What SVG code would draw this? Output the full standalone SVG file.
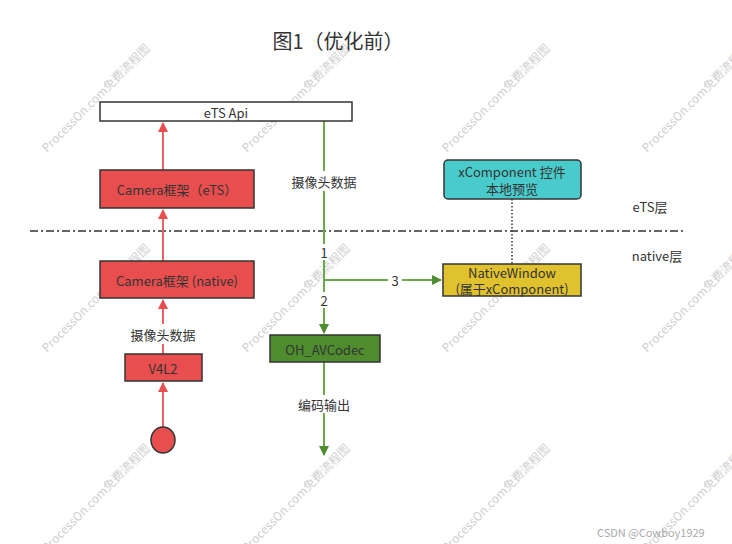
<svg xmlns="http://www.w3.org/2000/svg" width="732" height="544" viewBox="0 0 732 544">
<style>
text{font-family:"Microsoft YaHei","Noto Sans CJK SC","Liberation Sans",sans-serif;fill:#333;}
.t{font-size:13px;text-anchor:middle;dominant-baseline:central;}
.box{stroke:#333;stroke-width:1.5;}
.red{fill:#E84E4E;}
.rl{stroke:#E86464;stroke-width:2;fill:none;}
.gl{stroke:#6EA84C;stroke-width:2;fill:none;}
.wm{font-size:12px;fill:#d0d0d0;}
.lbl{font-size:13px;text-anchor:middle;dominant-baseline:central;}
</style>
<defs>
<marker id="ar" viewBox="0 0 10 10" refX="9" refY="5" markerWidth="5" markerHeight="5" orient="auto" markerUnits="strokeWidth"><path d="M0,0 L10,5 L0,10 z" fill="#E84E4E"/></marker>
<marker id="ag" viewBox="0 0 10 10" refX="9" refY="5" markerWidth="5" markerHeight="5" orient="auto" markerUnits="strokeWidth"><path d="M0,0 L10,5 L0,10 z" fill="#4E8C2E"/></marker>
</defs>
<rect width="732" height="544" fill="#fff"/>
<g id="watermarks">
<text class="wm" transform="translate(47,153) rotate(-45)">ProcessOn.com免费流程图</text>
<text class="wm" transform="translate(247,153) rotate(-45)">ProcessOn.com免费流程图</text>
<text class="wm" transform="translate(447,153) rotate(-45)">ProcessOn.com免费流程图</text>
<text class="wm" transform="translate(647,153) rotate(-45)">ProcessOn.com免费流程图</text>
<text class="wm" transform="translate(47,353) rotate(-45)">ProcessOn.com免费流程图</text>
<text class="wm" transform="translate(247,353) rotate(-45)">ProcessOn.com免费流程图</text>
<text class="wm" transform="translate(447,353) rotate(-45)">ProcessOn.com免费流程图</text>
<text class="wm" transform="translate(647,353) rotate(-45)">ProcessOn.com免费流程图</text>
<text class="wm" transform="translate(47,553) rotate(-45)">ProcessOn.com免费流程图</text>
<text class="wm" transform="translate(247,553) rotate(-45)">ProcessOn.com免费流程图</text>
<text class="wm" transform="translate(447,553) rotate(-45)">ProcessOn.com免费流程图</text>
<text class="wm" transform="translate(647,553) rotate(-45)">ProcessOn.com免费流程图</text>
</g>
<text x="338" y="40" style="font-size:20px;text-anchor:middle;dominant-baseline:central">图1（优化前）</text>
<line x1="30" y1="231" x2="686" y2="231" stroke="#333" stroke-width="1.5" stroke-dasharray="8,3,2,3"/>
<text x="650" y="206" class="t">eTS层</text>
<text x="657" y="255" class="t">native层</text>
<g id="connectors">
<line class="rl" x1="163" y1="427" x2="163" y2="383" marker-end="url(#ar)"/>
<line class="rl" x1="163" y1="354" x2="163" y2="344"/>
<line class="rl" x1="163" y1="324" x2="163" y2="300" marker-end="url(#ar)"/>
<text class="lbl" x="163" y="334">摄像头数据</text>
<line class="rl" x1="163" y1="261" x2="163" y2="210" marker-end="url(#ar)"/>
<line class="rl" x1="163" y1="170" x2="163" y2="123" marker-end="url(#ar)"/>
<line class="gl" x1="324" y1="121" x2="324" y2="171"/>
<text class="lbl" x="324" y="181">摄像头数据</text>
<line class="gl" x1="324" y1="191" x2="324" y2="244"/>
<text class="lbl" x="324" y="252">1</text>
<line class="gl" x1="324" y1="260" x2="324" y2="292"/>
<text class="lbl" x="324" y="300">2</text>
<line class="gl" x1="324" y1="308" x2="324" y2="333" marker-end="url(#ag)"/>
<line class="gl" x1="324" y1="280" x2="388" y2="280"/>
<text class="lbl" x="395" y="280">3</text>
<line class="gl" x1="402" y1="280" x2="441" y2="280" marker-end="url(#ag)"/>
<line class="gl" x1="324" y1="362" x2="324" y2="395"/>
<text class="lbl" x="324" y="404">编码输出</text>
<line class="gl" x1="324" y1="413" x2="324" y2="455" marker-end="url(#ag)"/>
<line x1="512" y1="199" x2="512" y2="264" stroke="#333" stroke-width="1.5" stroke-dasharray="1.5,2"/>
</g>
<g id="etsApi"><rect class="box" x="100" y="102" width="252" height="19" fill="#fff"/><text class="t" x="226" y="112">eTS Api</text></g>
<g id="cameraEts"><rect class="box red" x="100" y="170" width="154" height="38"/><text class="t" x="177" y="189">Camera框架（eTS）</text></g>
<g id="cameraNative"><rect class="box red" x="100" y="261" width="154" height="37"/><text class="t" x="177" y="280">Camera框架 (native)</text></g>
<g id="v4l2"><rect class="box red" x="125" y="354" width="77" height="27"/><text class="t" x="163" y="368">V4L2</text></g>
<g id="start"><ellipse class="box red" cx="163" cy="440" rx="12" ry="13"/></g>
<g id="avcodec"><rect class="box" x="270" y="335" width="110" height="27" fill="#4E8C2E"/><text class="t" x="325" y="349">OH_AVCodec</text></g>
<g id="xcomponent"><rect class="box" x="444" y="160" width="137" height="39" rx="4" fill="#4ACBCB"/><text class="t" x="512" y="171">xComponent 控件</text><text class="t" x="512" y="188">本地预览</text></g>
<g id="nativeWindow"><rect class="box" x="443" y="264" width="138" height="32" fill="#E0C22E"/><text class="t" x="512" y="272">NativeWindow</text><text class="t" x="512" y="288">(属于xComponent)</text></g>
<text x="597" y="532" style="font-size:11px;fill:#aaa;dominant-baseline:central">CSDN @Cowboy1929</text>
</svg>
